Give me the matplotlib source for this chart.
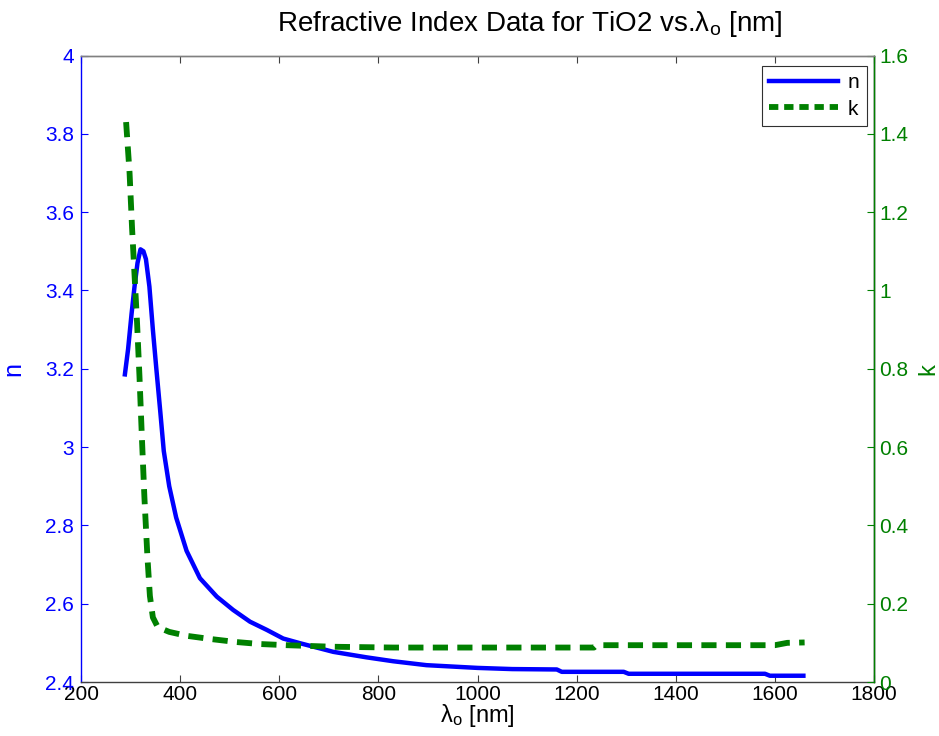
import matplotlib
matplotlib.use("Agg")
import matplotlib.pyplot as plt
from matplotlib.lines import Line2D

plt.rcParams['font.family'] = ['Liberation Sans', 'DejaVu Sans']
plt.rcParams['mathtext.fontset'] = 'custom'
plt.rcParams['mathtext.rm'] = 'Liberation Sans'
plt.rcParams['mathtext.it'] = 'Liberation Sans:italic'

# Refractive index n of TiO2
wl_n = [288, 295, 302, 308, 314, 320, 326, 331, 338, 345, 352, 360, 367, 378,
        392, 413, 440, 474, 507, 541, 575, 608, 642, 709, 776, 830, 897, 1000,
        1070, 1160, 1170, 1295, 1305, 1580, 1590, 1662]
n_vals = [3.18, 3.25, 3.34, 3.41, 3.47, 3.505, 3.50, 3.48, 3.41, 3.30, 3.20,
          3.09, 2.99, 2.90, 2.82, 2.735, 2.665, 2.618, 2.584, 2.554, 2.533,
          2.511, 2.499, 2.477, 2.463, 2.453, 2.443, 2.436, 2.433, 2.432, 2.426,
          2.426, 2.421, 2.421, 2.416, 2.416]

# Extinction coefficient k of TiO2
wl_k = [291, 298, 303, 308, 313, 318, 323, 328, 334, 339, 345, 355, 378, 413,
        460, 514, 561, 615, 709, 830, 1000, 1235, 1240, 1600, 1625, 1660]
k_vals = [1.43, 1.30, 1.16, 1.04, 0.92, 0.78, 0.62, 0.47, 0.32, 0.22, 0.165,
          0.14, 0.128, 0.118, 0.110, 0.102, 0.097, 0.094, 0.090, 0.088, 0.088,
          0.088, 0.094, 0.094, 0.100, 0.101]

x_ticks = [200, 400, 600, 800, 1000, 1200, 1400, 1600, 1800]
n_ticks = [2.4, 2.6, 2.8, 3.0, 3.2, 3.4, 3.6, 3.8, 4.0]
n_tick_labels = ['2.4', '2.6', '2.8', '3', '3.2', '3.4', '3.6', '3.8', '4']
k_ticks = [0, 0.2, 0.4, 0.6, 0.8, 1.0, 1.2, 1.4, 1.6]
k_tick_labels = ['0', '0.2', '0.4', '0.6', '0.8', '1', '1.2', '1.4', '1.6']

BLUE = (0, 0, 1)
GREEN = (0, 0.5, 0)
W, H = 939, 736

fig = plt.figure(figsize=(W / 100, H / 100), dpi=100)
fig.patch.set_facecolor('white')
left, right, top, bottom = 81, 874, 55.5, 682
ax = fig.add_axes([left / W, 1 - bottom / H, (right - left) / W, (bottom - top) / H])
ax2 = ax.twinx()

ax.plot(wl_n, n_vals, color=BLUE, lw=3.2, solid_capstyle='butt')
ax2.plot(wl_k, k_vals, color=GREEN, lw=4.2, dashes=(2.6, 1.6), dash_capstyle='butt')

ax.set_xlim(200, 1800)
ax.set_ylim(2.4, 4.0)
ax2.set_ylim(0, 1.6)

ax.set_xticks(x_ticks)
ax.set_xticklabels([str(t) for t in x_ticks])
ax.set_yticks(n_ticks)
ax.set_yticklabels(n_tick_labels)
ax2.set_yticks(k_ticks)
ax2.set_yticklabels(k_tick_labels)

ax.tick_params(axis='x', direction='in', length=5, width=0.8, colors='#404040',
               labelcolor='black', labelsize=15, pad=2, top=True)
ax.tick_params(axis='y', direction='in', length=5, width=0.8, colors=BLUE,
               labelsize=15, pad=5)
ax2.tick_params(axis='y', direction='in', length=5, width=0.8, colors=GREEN,
                labelsize=15, pad=4)

for a in (ax, ax2):
    for s in a.spines.values():
        s.set_linewidth(1.0)
ax.spines['left'].set_color(BLUE)
ax.spines['bottom'].set_color('#404040')
ax.spines['top'].set_color('#808080')
ax2.spines['right'].set_color(GREEN)
ax2.spines['left'].set_visible(False)
ax2.spines['top'].set_color('#808080')
ax2.spines['bottom'].set_visible(False)

ax.set_ylabel('n', color=BLUE, fontsize=18)
ax.yaxis.set_label_coords((25 - left) / (right - left), 0.5)
ax2.set_ylabel('k', color=GREEN, fontsize=17)
ax2.yaxis.set_label_coords((917 - left) / (right - left), 0.5)
ax.set_xlabel('λ$_{\\mathrm{o}}$ [nm]', fontsize=17, labelpad=-1)

fig.text(530 / W, 1 - 24 / H, 'Refractive Index Data for TiO2 vs.λ$_{\\mathrm{o}}$ [nm]',
         ha='center', va='center', fontsize=20)

handles = [Line2D([], [], color=BLUE, lw=3.2),
           Line2D([], [], color=GREEN, lw=4.2, dashes=(1.6, 1.0))]
leg = ax2.legend(handles, ['n', 'k'], loc='upper right',
                 bbox_to_anchor=(867 / W, 1 - 66 / H), bbox_transform=fig.transFigure,
                 borderaxespad=0, fancybox=False, framealpha=1, edgecolor='#303030',
                 fontsize=15, handlelength=3.3, handletextpad=0.5,
                 labelspacing=0.35, borderpad=0.35)
leg.get_frame().set_linewidth(0.8)

fig.savefig('out.png', dpi=100, facecolor='white')
